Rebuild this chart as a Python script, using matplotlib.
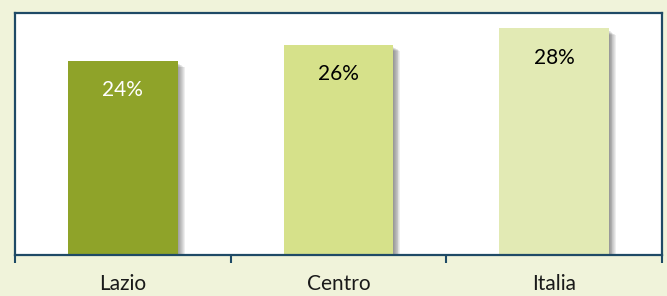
import numpy as np
import matplotlib
matplotlib.use('Agg')
import matplotlib.pyplot as plt

regions = ['Lazio', 'Centro', 'Italia']
values = [24, 26, 28]
labels = ['24%', '26%', '28%']
bar_colors = ['#8fa329', '#d6e18a', '#e2eab4']
text_colors = ['white', 'black', 'black']

plt.rcParams['font.family'] = ['Lato', 'DejaVu Sans']

fig = plt.figure(figsize=(6.67, 2.96), dpi=100)
fig.patch.set_facecolor('#f0f3da')
ax = fig.add_axes([15/667, 41/296, 647/667, 242/296])
ax.set_facecolor('white')

x = np.arange(len(regions))
w = 0.51

# soft shadow to the right of each bar
for k in range(8):
    off = 0.003 + k * 0.004
    ax.bar(x + off, [v - 0.3 - k * 0.07 for v in values], width=w, color='#303030',
           alpha=0.08, zorder=1, linewidth=0)

ax.bar(x, values, width=w, color=bar_colors, zorder=2, linewidth=0)

for xi, v, lab, tc in zip(x, values, labels, text_colors):
    ax.text(xi, v - 3.6, lab, ha='center', va='center', fontsize=15, color=tc, zorder=3)

ax.set_xlim(-0.5, 2.5)
ax.set_ylim(0, 29.9)
ax.set_yticks([])
ax.set_xticks([-0.5, 0.5, 1.5, 2.5])
ax.set_xticklabels([])
ax.set_xticks(x, minor=True)
ax.set_xticklabels(regions, minor=True, fontsize=15, color='#1a1a1a')
ax.tick_params(axis='x', which='major', direction='out', length=6, width=1.5, color='#1f4a66')
ax.tick_params(axis='x', which='minor', length=0, pad=14)

for s in ax.spines.values():
    s.set_color('#1f4a66')
    s.set_linewidth(1.6)

fig.savefig('out.png', dpi=100, facecolor=fig.get_facecolor())
